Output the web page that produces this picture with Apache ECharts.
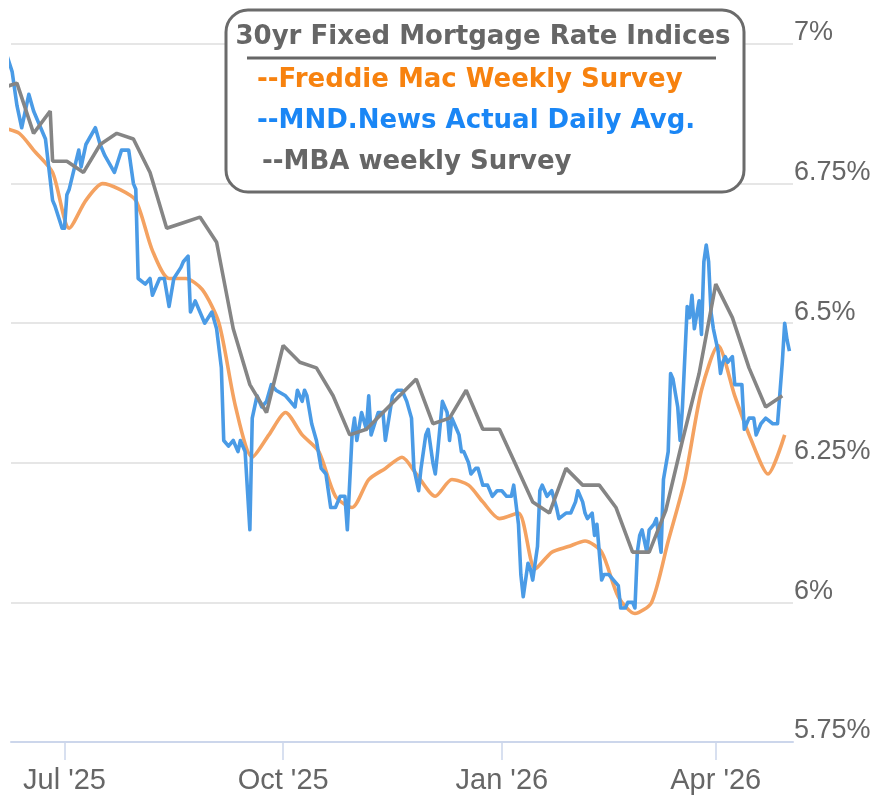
<!DOCTYPE html>
<html><head><meta charset="utf-8">
<script src="https://cdn.jsdelivr.net/npm/echarts@6/dist/echarts.min.js"></script>
<style>html,body{margin:0;padding:0;background:#fff}#c{width:874px;height:798px}</style>
</head><body><div id="c"></div>
<script>
const TITLE = '30yr Fixed Mortgage Rate Indices';
const SERIES_NAMES = ['--Freddie Mac Weekly Survey', '--MND.News Actual Daily Avg.', '--MBA weekly Survey'];
const X_MIN = '2025-06-08T12:00';
const X_MAX = '2026-05-03T12:00';
const TICK_DATES = ['2025-07-01', '2025-10-01', '2026-01-01', '2026-04-01'];
const TICK_LABELS = ["Jul '25", "Oct '25", "Jan '26", "Apr '26"];
const Y_MIN = 5.75, Y_MAX = 7, Y_STEP = 0.25;

const freddieDates = ['2025-06-05','2025-06-12','2025-06-18','2025-06-26','2025-07-03','2025-07-10','2025-07-17','2025-07-24','2025-07-31','2025-08-07','2025-08-14','2025-08-21','2025-08-28','2025-09-04','2025-09-11','2025-09-18','2025-09-25','2025-10-02','2025-10-09','2025-10-16','2025-10-23','2025-10-30','2025-11-06','2025-11-13','2025-11-20','2025-11-26','2025-12-04','2025-12-11','2025-12-18','2025-12-24','2025-12-31','2026-01-08','2026-01-15','2026-01-22','2026-01-29','2026-02-05','2026-02-12','2026-02-19','2026-02-26','2026-03-05','2026-03-12','2026-03-19','2026-03-26','2026-04-02','2026-04-09','2026-04-16','2026-04-23','2026-04-30'];
const freddieRates = [6.85,6.84,6.81,6.77,6.67,6.72,6.75,6.74,6.72,6.63,6.58,6.58,6.56,6.50,6.35,6.26,6.30,6.34,6.30,6.27,6.19,6.17,6.22,6.24,6.26,6.23,6.19,6.22,6.21,6.18,6.15,6.16,6.06,6.09,6.10,6.11,6.09,6.01,5.98,6.00,6.11,6.22,6.38,6.46,6.37,6.29,6.23,6.30];

const mbaDates = ['2025-06-04','2025-06-11','2025-06-18','2025-06-25','2025-06-26','2025-07-02','2025-07-09','2025-07-16','2025-07-23','2025-07-30','2025-08-06','2025-08-13','2025-08-20','2025-08-27','2025-09-03','2025-09-10','2025-09-17','2025-09-24','2025-10-01','2025-10-08','2025-10-15','2025-10-22','2025-10-29','2025-11-05','2025-11-12','2025-11-19','2025-11-26','2025-12-03','2025-12-10','2025-12-17','2025-12-24','2025-12-31','2026-01-07','2026-01-14','2026-01-21','2026-01-28','2026-02-04','2026-02-11','2026-02-18','2026-02-25','2026-03-04','2026-03-11','2026-03-18','2026-03-25','2026-04-01','2026-04-08','2026-04-15','2026-04-22','2026-04-29'];
const mbaRates = [6.92,6.93,6.84,6.88,6.79,6.79,6.77,6.82,6.84,6.83,6.77,6.67,6.68,6.69,6.645,6.49,6.39,6.34,6.46,6.43,6.42,6.37,6.30,6.31,6.34,6.37,6.40,6.32,6.33,6.38,6.31,6.31,6.245,6.18,6.16,6.24,6.21,6.21,6.17,6.09,6.09,6.165,6.29,6.41,6.57,6.51,6.42,6.35,6.37];

const mndDates = ['2025-06-06','2025-06-09','2025-06-11','2025-06-13','2025-06-16','2025-06-18','2025-06-20','2025-06-23','2025-06-26','2025-06-27','2025-06-30','2025-07-01','2025-07-02','2025-07-03','2025-07-07','2025-07-08','2025-07-10','2025-07-14','2025-07-16','2025-07-18','2025-07-22','2025-07-25','2025-07-28','2025-07-30','2025-07-31','2025-08-01','2025-08-04','2025-08-06','2025-08-07','2025-08-10','2025-08-12','2025-08-14','2025-08-16','2025-08-19','2025-08-20','2025-08-22','2025-08-23','2025-08-25','2025-08-27','2025-08-29','2025-09-01','2025-09-03','2025-09-05','2025-09-06','2025-09-08','2025-09-10','2025-09-12','2025-09-13','2025-09-15','2025-09-17','2025-09-18','2025-09-20','2025-09-22','2025-09-24','2025-09-26','2025-09-28','2025-10-02','2025-10-04','2025-10-06','2025-10-07','2025-10-09','2025-10-10','2025-10-11','2025-10-13','2025-10-15','2025-10-17','2025-10-19','2025-10-21','2025-10-23','2025-10-25','2025-10-27','2025-10-28','2025-10-30','2025-10-31','2025-11-01','2025-11-03','2025-11-05','2025-11-06','2025-11-07','2025-11-10','2025-11-12','2025-11-13','2025-11-16','2025-11-18','2025-11-20','2025-11-22','2025-11-24','2025-11-25','2025-11-27','2025-11-28','2025-11-30','2025-12-01','2025-12-03','2025-12-04','2025-12-05','2025-12-07','2025-12-09','2025-12-10','2025-12-11','2025-12-13','2025-12-14','2025-12-15','2025-12-16','2025-12-18','2025-12-19','2025-12-21','2025-12-22','2025-12-24','2025-12-26','2025-12-28','2025-12-30','2026-01-01','2026-01-03','2026-01-05','2026-01-06','2026-01-08','2026-01-09','2026-01-10','2026-01-12','2026-01-13','2026-01-14','2026-01-16','2026-01-17','2026-01-18','2026-01-20','2026-01-22','2026-01-24','2026-01-25','2026-01-28','2026-01-30','2026-02-01','2026-02-02','2026-02-04','2026-02-05','2026-02-06','2026-02-08','2026-02-09','2026-02-10','2026-02-12','2026-02-13','2026-02-15','2026-02-17','2026-02-19','2026-02-20','2026-02-22','2026-02-23','2026-02-25','2026-02-26','2026-02-27','2026-02-28','2026-03-01','2026-03-03','2026-03-04','2026-03-06','2026-03-07','2026-03-09','2026-03-10','2026-03-12','2026-03-13','2026-03-14','2026-03-16','2026-03-17','2026-03-18','2026-03-20','2026-03-21','2026-03-22','2026-03-23','2026-03-25','2026-03-26','2026-03-27','2026-03-28','2026-03-29','2026-03-30','2026-03-31','2026-04-02','2026-04-03','2026-04-04','2026-04-05','2026-04-06','2026-04-08','2026-04-09','2026-04-10','2026-04-12','2026-04-13','2026-04-15','2026-04-17','2026-04-18','2026-04-20','2026-04-22','2026-04-25','2026-04-27','2026-04-29','2026-04-30','2026-05-01','2026-05-02'];
const mndRates = [6.99,6.95,6.89,6.85,6.91,6.88,6.86,6.83,6.72,6.71,6.67,6.67,6.73,6.74,6.81,6.78,6.82,6.85,6.82,6.80,6.77,6.81,6.81,6.75,6.74,6.58,6.57,6.58,6.55,6.58,6.58,6.53,6.58,6.60,6.61,6.62,6.52,6.54,6.52,6.50,6.52,6.49,6.42,6.29,6.28,6.29,6.27,6.29,6.27,6.13,6.33,6.37,6.35,6.36,6.39,6.38,6.37,6.36,6.35,6.38,6.36,6.38,6.37,6.32,6.29,6.24,6.23,6.17,6.17,6.19,6.19,6.13,6.30,6.33,6.29,6.34,6.31,6.37,6.30,6.34,6.34,6.29,6.37,6.38,6.38,6.36,6.33,6.24,6.20,6.24,6.30,6.31,6.25,6.23,6.27,6.36,6.34,6.29,6.33,6.31,6.30,6.27,6.27,6.25,6.23,6.24,6.24,6.21,6.21,6.19,6.20,6.20,6.19,6.19,6.21,6.14,6.05,6.01,6.07,6.06,6.04,6.10,6.20,6.21,6.19,6.20,6.17,6.15,6.16,6.16,6.18,6.20,6.18,6.16,6.15,6.16,6.12,6.14,6.04,6.05,6.05,6.04,6.03,5.99,5.99,6.00,6.00,5.99,6.09,6.12,6.13,6.09,6.13,6.14,6.15,6.09,6.22,6.27,6.41,6.40,6.35,6.29,6.35,6.53,6.51,6.55,6.49,6.54,6.48,6.61,6.64,6.61,6.52,6.49,6.45,6.41,6.43,6.44,6.43,6.44,6.39,6.39,6.39,6.31,6.33,6.33,6.30,6.32,6.33,6.32,6.32,6.43,6.50,6.47,6.45];

function ts(s) {
  const p = s.split('T');
  const d = p[0].split('-').map(Number);
  const h = p[1] ? Number(p[1].split(':')[0]) : 0;
  return new Date(d[0], d[1] - 1, d[2], h).getTime();
}
function pairs(dates, vals) { return dates.map((d, i) => [ts(d), vals[i]]); }
const tickTs = TICK_DATES.map(ts);

const chart = echarts.init(document.getElementById('c'), null, { renderer: 'canvas' });
const LABEL_FONT = "'Liberation Sans', Arial, sans-serif";
const LEG_FONT = "'DejaVu Sans', Verdana, sans-serif";

chart.setOption({
  animation: false,
  backgroundColor: '#fff',
  grid: { left: 11, right: 81, top: 44, bottom: 56, containLabel: false },
  xAxis: {
    type: 'value',
    min: ts(X_MIN), max: ts(X_MAX),
    axisLine: { show: true, onZero: false, lineStyle: { color: '#ccd6eb', width: 2 } },
    axisTick: { show: true, length: 18, lineStyle: { color: '#ccd6eb', width: 1.5 }, customValues: tickTs },
    axisLabel: {
      customValues: tickTs,
      formatter: v => { const i = tickTs.findIndex(t => Math.abs(t - v) < 3600000); return i >= 0 ? TICK_LABELS[i] : ''; },
      color: '#666', fontSize: 29, fontFamily: LABEL_FONT, margin: 24
    },
    splitLine: { show: false }
  },
  yAxis: {
    type: 'value', position: 'right',
    min: Y_MIN, max: Y_MAX, interval: Y_STEP,
    axisLine: { show: false }, axisTick: { show: false },
    splitLine: { lineStyle: { color: '#e6e6e6', width: 2 } },
    axisLabel: {
      formatter: v => (+v.toFixed(2)) + '%',
      color: '#666', fontSize: 27, fontFamily: LABEL_FONT,
      margin: 1, align: 'left', verticalAlign: 'bottom', lineHeight: 22
    }
  },
  series: [
    { name: SERIES_NAMES[0], type: 'line', data: pairs(freddieDates, freddieRates), showSymbol: false, smooth: 0.25,
      lineStyle: { color: '#f4a261', width: 3.6 }, itemStyle: { color: '#f4a261' }, z: 2 },
    { name: SERIES_NAMES[1], type: 'line', data: pairs(mndDates, mndRates), showSymbol: false,
      lineStyle: { color: '#4a9be6', width: 3.6, join: 'round' }, itemStyle: { color: '#4a9be6' }, z: 3 },
    { name: SERIES_NAMES[2], type: 'line', data: pairs(mbaDates, mbaRates), showSymbol: false,
      lineStyle: { color: '#858585', width: 3.6 }, itemStyle: { color: '#858585' }, z: 4 }
  ],
  graphic: [
    { type: 'rect', z: 100, shape: { x: 226, y: 10, width: 518, height: 182, r: 22 },
      style: { fill: '#fff', stroke: '#6b6b6b', lineWidth: 3 } },
    { type: 'text', z: 101, style: { x: 483, y: 37, text: TITLE, fill: '#666', font: "bold 26px " + LEG_FONT, textAlign: 'center', textVerticalAlign: 'middle' } },
    { type: 'line', z: 101, shape: { x1: 247, y1: 58, x2: 716, y2: 58 }, style: { stroke: '#666', lineWidth: 3 } },
    { type: 'text', z: 101, style: { x: 257, y: 80, text: SERIES_NAMES[0], fill: '#f7820f', font: "bold 26px " + LEG_FONT, textAlign: 'left', textVerticalAlign: 'middle' } },
    { type: 'text', z: 101, style: { x: 257, y: 121, text: SERIES_NAMES[1], fill: '#1a86f5', font: "bold 26px " + LEG_FONT, textAlign: 'left', textVerticalAlign: 'middle' } },
    { type: 'text', z: 101, style: { x: 262, y: 162, text: SERIES_NAMES[2], fill: '#666', font: "bold 26px " + LEG_FONT, textAlign: 'left', textVerticalAlign: 'middle' } }
  ]
});
</script></body></html>
